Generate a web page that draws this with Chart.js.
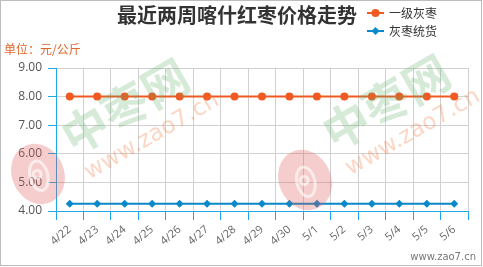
<!DOCTYPE html>
<html>
<head>
<meta charset="utf-8">
<script src="https://cdn.jsdelivr.net/npm/chart.js@4/dist/chart.umd.min.js"></script>
<style>
  html, body { margin: 0; padding: 0; background: #fff; }
  #wrap { width: 483px; height: 267px; }
</style>
</head>
<body>
<div id="wrap"><canvas id="myChart" width="483" height="267"></canvas></div>
<script>
// data
const dates = ['4/22', '4/23', '4/24', '4/25', '4/26', '4/27', '4/28', '4/29', '4/30', '5/1', '5/2', '5/3', '5/4', '5/5', '5/6'];
const gradeOne = [8.00, 8.00, 8.00, 8.00, 8.00, 8.00, 8.00, 8.00, 8.00, 8.00, 8.00, 8.00, 8.00, 8.00, 8.00];
const mixedGrade = [4.25, 4.25, 4.25, 4.25, 4.25, 4.25, 4.25, 4.25, 4.25, 4.25, 4.25, 4.25, 4.25, 4.25, 4.25];
const seriesNames = ['一级灰枣', '灰枣统货'];
const yTicks = [4, 5, 6, 7, 8, 9];

const titleText = '最近两周喀什红枣价格走势';
const unitText = '单位：元/公斤';
const siteText = 'www.zao7.cn';

const ORANGE = '#f05a22';
const BLUE = '#0b88c9';
const AXIS = '#22a7e6';
const FONT = '"Open Sans", "Noto Sans CJK SC", sans-serif';

// faint watermarks (logo + site name), drawn over the lines like the original
function drawWatermark(ctx, cx, cy) {
  ctx.save();
  ctx.translate(cx, cy);
  ctx.rotate(-30 * Math.PI / 180);
  ctx.textAlign = 'center';
  ctx.textBaseline = 'middle';
  ctx.fillStyle = 'rgba(90,170,100,0.25)';
  ctx.font = 'bold 46px "Noto Sans CJK SC"';
  ctx.fillText('中枣网', 0, 0);
  ctx.fillStyle = 'rgba(245,120,60,0.3)';
  ctx.font = '23px "DejaVu Sans"';
  ctx.fillText('www.zao7.cn', 8, 40);
  ctx.restore();
}

function drawLogo(ctx, cx, cy) {
  ctx.save();
  ctx.translate(cx, cy);
  ctx.rotate(-25 * Math.PI / 180);
  ctx.fillStyle = 'rgba(222,90,90,0.3)';
  ctx.beginPath();
  ctx.ellipse(0, 0, 26, 31, 0, 0, Math.PI * 2);
  ctx.fill();
  ctx.strokeStyle = 'rgba(255,255,255,0.6)';
  ctx.lineWidth = 3;
  ctx.beginPath();
  ctx.ellipse(0, 2, 9, 15, 0.2, 0, Math.PI * 2);
  ctx.stroke();
  ctx.beginPath();
  ctx.arc(-1, 0, 4, 0, Math.PI * 2);
  ctx.stroke();
  ctx.restore();
}

const decorations = {
  id: 'decorations',
  afterDatasetsDraw(chart) {
    const ctx = chart.ctx;
    drawLogo(ctx, 38, 174);
    drawLogo(ctx, 305, 180);
    drawWatermark(ctx, 125, 106);
    drawWatermark(ctx, 386, 102);
  },
  afterDraw(chart) {
    const ctx = chart.ctx;
    ctx.save();
    // outer frame
    ctx.strokeStyle = '#bdbdbd';
    ctx.lineWidth = 1;
    ctx.strokeRect(0.5, 0.5, 481, 265);

    // title
    ctx.fillStyle = '#333';
    ctx.font = 'bold 20px "Noto Sans CJK SC"';
    ctx.textAlign = 'center';
    ctx.textBaseline = 'middle';
    ctx.fillText(titleText, 237, 15);

    // unit
    ctx.fillStyle = '#e2662a';
    ctx.font = '12px "Noto Sans CJK SC"';
    ctx.textAlign = 'left';
    ctx.fillText(unitText, 4, 49);

    // legend from the datasets
    chart.data.datasets.forEach((ds, i) => {
      const y = 13 + i * 18;
      ctx.strokeStyle = ds.borderColor;
      ctx.lineWidth = 2;
      ctx.beginPath();
      ctx.moveTo(367, y);
      ctx.lineTo(384, y);
      ctx.stroke();
      ctx.fillStyle = ds.borderColor;
      ctx.beginPath();
      if (ds.pointStyle === 'rectRot') {
        ctx.moveTo(375.5, y - 4); ctx.lineTo(379.5, y); ctx.lineTo(375.5, y + 4); ctx.lineTo(371.5, y);
      } else {
        ctx.arc(375.5, y, 4, 0, Math.PI * 2);
      }
      ctx.fill();
      ctx.fillStyle = '#333';
      ctx.font = '12px "Noto Sans CJK SC"';
      ctx.textAlign = 'left';
      ctx.fillText(ds.label, 389, y);
    });

    // site name bottom right
    ctx.fillStyle = '#777';
    ctx.font = '10px "DejaVu Sans"';
    ctx.textAlign = 'right';
    ctx.fillText(siteText, 476, 257);
    ctx.restore();
  }
};

const ctx = document.getElementById('myChart').getContext('2d');
new Chart(ctx, {
  type: 'line',
  data: {
    labels: dates,
    datasets: [
      {
        label: seriesNames[0],
        data: gradeOne,
        borderColor: ORANGE,
        backgroundColor: ORANGE,
        borderWidth: 2,
        pointStyle: 'circle',
        pointRadius: 4,
        pointBackgroundColor: ORANGE,
        pointBorderWidth: 0,
      },
      {
        label: seriesNames[1],
        data: mixedGrade,
        borderColor: BLUE,
        backgroundColor: BLUE,
        borderWidth: 2,
        pointStyle: 'rectRot',
        pointRadius: 4,
        pointBackgroundColor: BLUE,
        pointBorderWidth: 0,
      },
    ],
  },
  options: {
    responsive: false,
    animation: false,
    layout: { padding: { top: 68, left: 0, right: 15, bottom: 0 } },
    plugins: {
      legend: { display: false },
      title: { display: false },
      tooltip: { enabled: false },
    },
    scales: {
      x: {
        offset: true,
        grid: { offset: true, color: '#d0d0d0', tickColor: AXIS, tickLength: 9 },
        border: { color: AXIS, width: 1 },
        ticks: {
          autoSkip: false,
          minRotation: 40,
          maxRotation: 40,
          padding: 3,
          color: '#666',
          font: { family: FONT, size: 11 },
        },
        afterFit(scale) { scale.height = 56; },
      },
      y: {
        min: yTicks[0],
        max: yTicks[yTicks.length - 1],
        afterBuildTicks(scale) { scale.ticks = yTicks.map(v => ({ value: v })); },
        grid: { color: '#d0d0d0', tickColor: AXIS, tickLength: 8 },
        border: { color: AXIS, width: 1 },
        ticks: {
          padding: 6,
          color: '#555',
          font: { family: FONT, size: 12 },
          callback: v => Number(v).toFixed(2),
        },
        afterFit(scale) { scale.width = 56; },
      },
    },
  },
  plugins: [decorations],
});
</script>
</body>
</html>
